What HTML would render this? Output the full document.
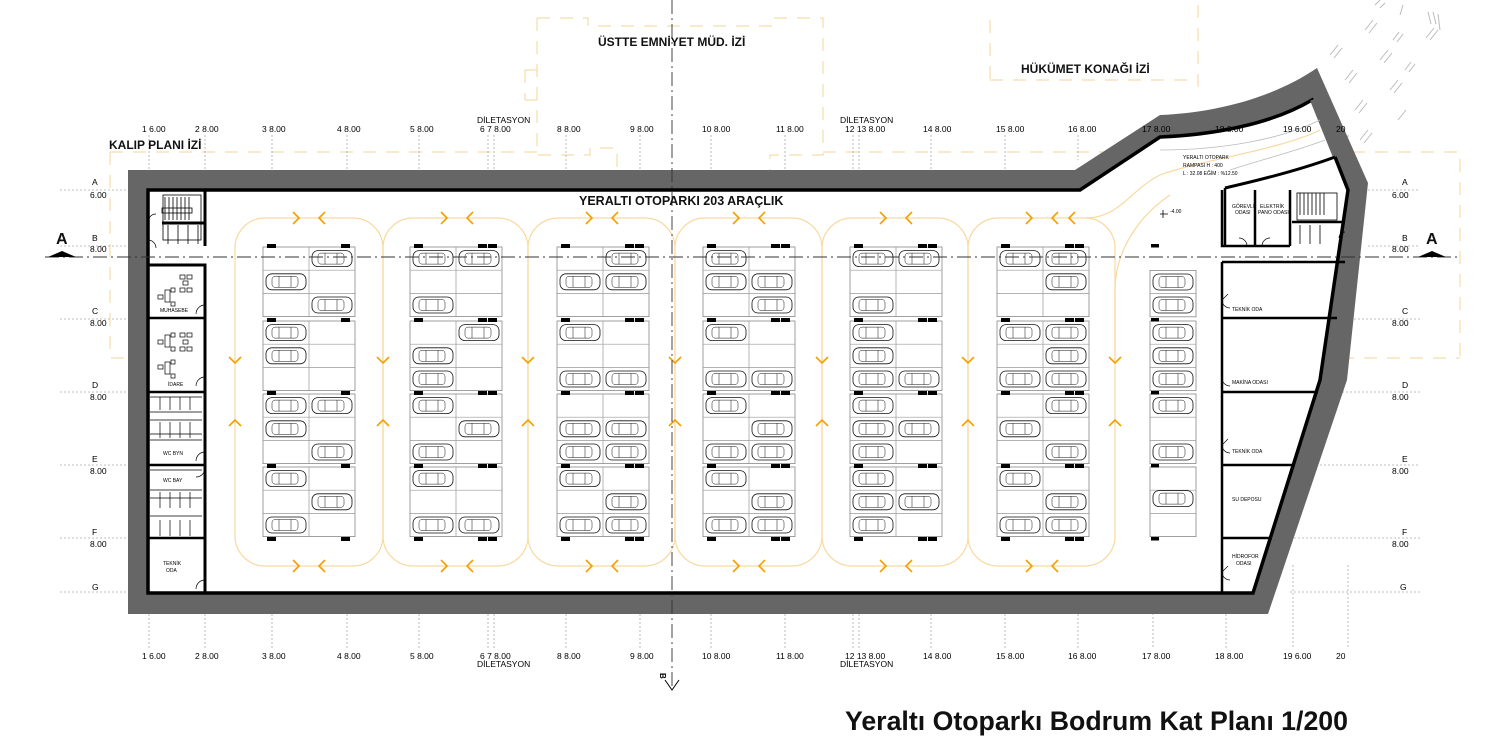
<!DOCTYPE html>
<html><head><meta charset="utf-8"><style>
html,body{margin:0;padding:0;background:#fff;}
svg{display:block;font-family:"Liberation Sans",Arial,sans-serif;}
</style></head><body>
<svg id="s" width="1500" height="747" viewBox="0 0 1500 747" xmlns="http://www.w3.org/2000/svg">
<defs>
<g id="car">
<rect x="0" y="0" width="40" height="16" rx="6" fill="#fff" stroke="#111" stroke-width="0.8"/>
<rect x="6" y="2.5" width="26" height="11" rx="3" fill="none" stroke="#111" stroke-width="0.5"/>
<line x1="13" y1="2.5" x2="13" y2="13.5" stroke="#111" stroke-width="0.5"/>
<line x1="25" y1="2.5" x2="25" y2="13.5" stroke="#111" stroke-width="0.5"/>
</g>
</defs>
<g fill="none" stroke="#f6d49a" stroke-width="1" stroke-dasharray="13 10">
<path d="M537 18 H588 V26 H772 V18 H823 V155 H770 V172 M537 18 V155 H590 V148 H617 V172"/>
<path d="M525 70 H537 M525 100 H537 M525 70 V100"/>
<path d="M110 152 H537 M823 152 H1460 V358 M110 152 V358 H148"/>
<path d="M1180 358 H1460"/>
<path d="M990 20 V80 M990 80 H1190 M1198 5 V95"/>
</g>
<g stroke="#aaa" stroke-width="0.8" stroke-dasharray="2 2" fill="none">
<path d="M149 135 V175 M205 135 V175 M272 135 V175 M347 135 V175 M419 135 V175 M488 135 V175 M494 135 V175 M566 135 V175 M640 135 V175 M711 135 V175 M785 135 V175 M853 135 V175 M859 135 V175 M931 135 V175 M1005 135 V175 M1078 135 V160 M1153 135 V210 M1226 135 V190 M1293 135 V190 M1348 135 V150"/>
<path d="M149 614 V648 M205 614 V648 M272 614 V648 M347 614 V648 M419 614 V648 M488 614 V648 M494 614 V648 M566 614 V648 M640 614 V648 M711 614 V648 M785 614 V648 M853 614 V648 M859 614 V648 M931 614 V648 M1005 614 V648 M1078 614 V648 M1153 565 V648 M1226 614 V648 M1293 565 V648 M1348 565 V648"/>
<path d="M60 190 H128 M60 246 H128 M60 319 H128 M60 392 H128 M60 465 H128 M60 538 H128 M60 592 H128"/>
<path d="M1368 190 H1420 M1368 246 H1420 M1330 319 H1420 M1318 392 H1420 M1300 465 H1420 M1290 538 H1420 M1290 592 H1420"/>
<path d="M272 196 V240 M347 196 V240 M419 196 V240 M494 196 V240 M566 196 V240 M640 196 V240 M711 196 V240 M785 196 V240 M859 196 V240 M931 196 V240 M1005 196 V240 M1078 196 V240"/>
<path d="M272 540 V590 M347 540 V590 M419 540 V590 M494 540 V590 M566 540 V590 M640 540 V590 M711 540 V590 M785 540 V590 M859 540 V590 M931 540 V590 M1005 540 V590 M1078 540 V590"/>
</g>
<g stroke="#bbb" stroke-width="1" fill="none">
<path d="M1330 55 l8 -10 M1334 58 l8 -10 M1345 80 l8 -10 M1349 83 l8 -10 M1355 110 l8 -10 M1359 113 l8 -10 M1360 140 l8 -10 M1364 143 l8 -10"/>
<path d="M1365 30 l8 -10 M1369 33 l8 -10 M1380 60 l8 -10 M1384 63 l8 -10 M1390 90 l8 -10 M1394 93 l8 -10 M1398 120 l8 -10"/>
<path d="M1375 5 l5 -5 M1380 8 l5 -5 M1393 40 l6 -8 M1397 42 l6 -8 M1405 70 l6 -8 M1409 72 l6 -8"/>
<path d="M1400 15 l3 -10 M1428 12 l3 12 M1433 12 l3 12 M1440 30 l-2 -16 M1426 38 l8 -10 M1430 40 l8 -10"/>
</g>
<path d="M128 170 H1075 L1160 115 C1210 113 1270 100 1317 68 L1368 183 L1347 380 L1268 614 H128 Z" fill="#666"/>
<path d="M148 190 H1080 L1160 137 C1210 135 1270 125 1312 100 L1335 157 L1348 190 L1320 380 L1253 593 H148 Z" fill="#fff" stroke="#000" stroke-width="3.5"/>
<path d="M1312 100 L1335 157" stroke="#666" stroke-width="4"/>
<path d="M1225 188 C1260 180 1300 170 1335 157" fill="none" stroke="#000" stroke-width="3"/>
<path d="M1225 188 V246" stroke="#000" stroke-width="2.5"/>
<g fill="none" stroke="#bbb" stroke-width="0.8">
<path d="M1160 150 C1220 150 1280 140 1320 120"/>
<path d="M1230 170 C1260 160 1300 150 1325 140"/>
</g>
<path d="M1085 218 C1120 218 1130 190 1160 175 C1200 160 1280 150 1320 130" fill="none" stroke="#f8d9a0" stroke-width="1.2"/>
<path d="M1115 360 V290 C1115 250 1140 215 1170 195" fill="none" stroke="#f8d9a0" stroke-width="1.2"/>
<g fill="none" stroke="#f8d9a0" stroke-width="1.2">
<rect x="235" y="218" width="148" height="348" rx="30"/>
<rect x="383" y="218" width="145" height="348" rx="30"/>
<rect x="528" y="218" width="147" height="348" rx="30"/>
<rect x="675" y="218" width="147" height="348" rx="30"/>
<rect x="822" y="218" width="146" height="348" rx="30"/>
<rect x="968" y="218" width="147" height="348" rx="30"/>
</g>
<g id="chev" fill="none" stroke="#f5a000" stroke-width="1.6"></g>
<g id="park"></g>
<g stroke="#000" fill="none">
<path d="M205 190 V246 M148 265 H205 V593" stroke-width="3"/>
<path d="M148 318 H205 M148 392 H205 M148 465 H205 M148 538 H205" stroke-width="2.5"/>
<rect x="163" y="195" width="38" height="45" stroke-width="0.8"/>
<path d="M165 197 V220 M169 197 V220 M173 197 V220 M177 197 V220 M181 197 V220 M185 197 V220 M189 197 V220" stroke-width="0.8"/>
<rect x="162" y="208" width="30" height="5" stroke-width="0.8"/>
<path d="M162 223 H204" stroke-width="3"/>
<path d="M168 225 V244 M178 225 V244 M188 225 V244 M198 225 V244" stroke-width="0.8"/>
<g stroke-width="0.7">
<rect x="180" y="275" width="5" height="4"/><rect x="187" y="275" width="5" height="4"/><rect x="183" y="281" width="5" height="4"/><rect x="180" y="288" width="5" height="4"/><rect x="187" y="288" width="5" height="4"/>
<rect x="165" y="290" width="5" height="12"/><rect x="158" y="295" width="5" height="4"/><rect x="171" y="288" width="4" height="4"/><rect x="171" y="302" width="4" height="4"/>
<rect x="180" y="333" width="5" height="4"/><rect x="187" y="333" width="5" height="4"/><rect x="183" y="340" width="5" height="4"/><rect x="180" y="347" width="5" height="4"/><rect x="187" y="347" width="5" height="4"/>
<rect x="165" y="335" width="5" height="12"/><rect x="158" y="340" width="5" height="4"/><rect x="171" y="333" width="4" height="4"/><rect x="171" y="347" width="4" height="4"/>
<rect x="165" y="362" width="5" height="12"/><rect x="158" y="365" width="5" height="4"/><rect x="171" y="360" width="4" height="4"/><rect x="171" y="374" width="4" height="4"/>
<path d="M150 397 H202 M150 412 H202 M150 420 H202 M150 440 H202 M150 434 H202 M150 470 H202 M150 490 H202 M150 498 H202 M150 516 H202"/>
<path d="M160 397 V410 M170 397 V410 M180 397 V410 M190 397 V410 M160 422 V438 M170 422 V438 M180 422 V438 M190 422 V438 M160 492 V508 M170 492 V508 M180 492 V508 M190 492 V508 M160 520 V536 M170 520 V536 M180 520 V536 M190 520 V536"/>
<path d="M205 305 a9 9 0 0 0 -9 9 M205 377 a9 9 0 0 0 -9 9 M205 452 a9 9 0 0 0 -9 9 M205 468 a9 9 0 0 1 -9 9 M205 580 a9 9 0 0 0 -9 9 M148 240 a8 8 0 0 1 8 8 M148 222 a8 8 0 0 1 8 -8"/>
</g>
</g>
<g stroke="#000" fill="none">
<path d="M1222 190 V246 H1290 M1255 190 V246 M1290 190 V246 M1292 222 H1345 M1222 262 V593" stroke-width="2.5"/>
<path d="M1222 262 H1345 M1222 318 H1337 M1222 392 H1318 M1222 465 H1295 M1222 538 H1272" stroke-width="2.5"/>
<rect x="1297" y="193" width="40" height="27" stroke-width="0.8"/>
<path d="M1300 193 V215 M1304 193 V215 M1308 193 V215 M1312 193 V215 M1316 193 V215 M1320 193 V215 M1324 193 V215" stroke-width="0.8"/>
<path d="M1300 225 V244 M1310 225 V244 M1320 225 V244" stroke-width="0.8"/>
<g stroke-width="0.7"><path d="M1247 246 a8 8 0 0 0 -8 -8 M1262 246 a8 8 0 0 1 8 -8 M1345 232 a6 6 0 0 0 -6 6 M1222 300 a8 8 0 0 0 8 8 M1222 300 l6 -6 M1222 378 a8 8 0 0 0 8 8 M1222 445 a8 8 0 0 0 8 8 M1222 445 l6 -6 M1222 572 a8 8 0 0 0 8 8 M1222 572 l6 -6"/></g>
</g>
<line x1="45" y1="257" x2="1460" y2="257" stroke="#333" stroke-width="0.9" stroke-dasharray="14 4 2 4"/>
<line x1="672" y1="0" x2="672" y2="690" stroke="#333" stroke-width="0.9" stroke-dasharray="14 4 2 4"/>
<path d="M48 257 L62 251 L76 257 Z M1418 257 L1432 251 L1446 257 Z" fill="#000"/>
<path d="M665 680 L672 690 L679 680" fill="none" stroke="#000"/>
<g font-size="8.5" fill="#000" text-anchor="start">
<text x="142" y="132">1  6.00</text><text x="195" y="132">2  8.00</text><text x="262" y="132">3  8.00</text><text x="337" y="132">4  8.00</text><text x="410" y="132">5  8.00</text><text x="480" y="132">6  7 8.00</text><text x="557" y="132">8  8.00</text><text x="630" y="132">9  8.00</text><text x="702" y="132">10  8.00</text><text x="776" y="132">11  8.00</text><text x="845" y="132">12 13  8.00</text><text x="923" y="132">14  8.00</text><text x="996" y="132">15  8.00</text><text x="1068" y="132">16  8.00</text><text x="1142" y="132">17  8.00</text><text x="1215" y="132">18  8.00</text><text x="1283" y="132">19  6.00</text><text x="1336" y="132">20</text>
<text x="477" y="123">DİLETASYON</text><text x="840" y="123">DİLETASYON</text>
<text x="142" y="659">1  6.00</text><text x="195" y="659">2  8.00</text><text x="262" y="659">3  8.00</text><text x="337" y="659">4  8.00</text><text x="410" y="659">5  8.00</text><text x="480" y="659">6  7 8.00</text><text x="557" y="659">8  8.00</text><text x="630" y="659">9  8.00</text><text x="702" y="659">10  8.00</text><text x="776" y="659">11  8.00</text><text x="845" y="659">12 13  8.00</text><text x="923" y="659">14  8.00</text><text x="996" y="659">15  8.00</text><text x="1068" y="659">16  8.00</text><text x="1142" y="659">17  8.00</text><text x="1215" y="659">18  8.00</text><text x="1283" y="659">19  6.00</text><text x="1336" y="659">20</text>
<text x="477" y="667">DİLETASYON</text><text x="840" y="667">DİLETASYON</text>
<text x="92" y="185">A</text><text x="90" y="198">6.00</text><text x="92" y="241">B</text><text x="90" y="252">8.00</text><text x="92" y="314">C</text><text x="90" y="326">8.00</text><text x="92" y="388">D</text><text x="90" y="400">8.00</text><text x="92" y="462">E</text><text x="90" y="474">8.00</text><text x="92" y="535">F</text><text x="90" y="547">8.00</text><text x="92" y="590">G</text>
<text x="1402" y="185">A</text><text x="1392" y="198">6.00</text><text x="1402" y="241">B</text><text x="1392" y="252">8.00</text><text x="1402" y="314">C</text><text x="1392" y="326">8.00</text><text x="1402" y="388">D</text><text x="1392" y="400">8.00</text><text x="1402" y="462">E</text><text x="1392" y="474">8.00</text><text x="1402" y="535">F</text><text x="1392" y="547">8.00</text><text x="1400" y="590">G</text>
</g>
<g font-size="5" fill="#000">
<text x="160" y="312">MUHASEBE</text><text x="168" y="386">İDARE</text><text x="163" y="455">WC BYN</text><text x="163" y="482">WC BAY</text><text x="163" y="565">TEKNİK</text><text x="166" y="572">ODA</text>
<text x="1232" y="208">GÖREVLİ</text><text x="1235" y="214">ODASI</text><text x="1260" y="208">ELEKTRİK</text><text x="1258" y="214">PANO ODASI</text>
<text x="1232" y="311">TEKNİK ODA</text><text x="1232" y="384">MAKİNA ODASI</text><text x="1232" y="453">TEKNİK ODA</text><text x="1232" y="501">SU DEPOSU</text><text x="1232" y="558">HİDROFOR</text><text x="1236" y="565">ODASI</text>
<text x="1183" y="159">YERALTI OTOPARK</text><text x="1183" y="167">RAMPASI H : 400</text><text x="1183" y="175">L : 32.08 EĞİM : %12.50</text>
<text x="1170" y="213">-4.00</text>
</g>
<path d="M1160 214 h8 M1163 210 v8" stroke="#000" stroke-width="0.8"/>
<g font-weight="bold" fill="#111">
<text x="579" y="205" font-size="12.5">YERALTI OTOPARKI  203 ARAÇLIK</text>
<text x="598" y="46" font-size="12">ÜSTTE EMNİYET MÜD. İZİ</text>
<text x="1021" y="73" font-size="12">HÜKÜMET KONAĞI İZİ</text>
<text x="109" y="149" font-size="12">KALIP PLANI İZİ</text>
<text x="56" y="244" font-size="16">A</text><text x="1426" y="244" font-size="16">A</text>
<text x="845" y="730" font-size="27" textLength="503" lengthAdjust="spacingAndGlyphs">Yeraltı Otoparkı Bodrum Kat Planı 1/200</text>
</g>
<text transform="translate(660,673) rotate(90)" font-size="8" font-weight="bold">B</text>
</svg>
<script>
(function(){
var NS="http://www.w3.org/2000/svg",park=document.getElementById('park'),ch=document.getElementById('chev');
function el(t,a,p){var e=document.createElementNS(NS,t);for(var k in a)e.setAttribute(k,a[k]);(p||park).appendChild(e);return e;}
var groups=[247,321,394,467],rh=23.2;
var blocks=[
[263,["R","L","R","L","L","","LR","L","R","L","R","L"]],
[410,["LR","","L","R","L","L","L","R","L","L","","LR"]],
[557,["R","LR","","L","","LR","","LR","LR","L","R","LR"]],
[703,["L","LR","R","L","","LR","L","R","LR","L","R","LR"]],
[850,["LR","","L","L","L","LR","L","LR","L","L","LR","L"]],
[997,["LR","R","","LR","R","LR","R","L","R","L","R","LR"]]
];
blocks.forEach(function(b){
 var x=b[0];
 groups.forEach(function(gy){
  el('rect',{x:x,y:gy,width:92,height:rh*3,fill:'#fff',stroke:'#888','stroke-width':0.8});
  el('path',{d:'M'+(x+46)+' '+gy+' V'+(gy+rh*3)+' M'+x+' '+(gy+rh)+' H'+(x+92)+' M'+x+' '+(gy+2*rh)+' H'+(x+92),stroke:'#999','stroke-width':0.7,fill:'none'});
 });
 [244,318,391,464,537].forEach(function(y){
  el('rect',{x:x+4,y:y,width:9,height:4,fill:'#000'});
  el('rect',{x:x+78,y:y,width:9,height:4,fill:'#000'});
  if(x>400){el('rect',{x:x+68,y:y,width:9,height:4,fill:'#000'});}
 });
 b[1].forEach(function(s,i){
  var gi=Math.floor(i/3),ri=i%3,y=groups[gi]+ri*rh+3.6;
  if(s.indexOf('L')>=0)el('use',{href:'#car',x:x+3,y:y});
  if(s.indexOf('R')>=0)el('use',{href:'#car',x:x+49,y:y});
 });
});
var x7=1150;
el('rect',{x:x7,y:270.4,width:46,height:rh*2,fill:'#fff',stroke:'#888','stroke-width':0.8});
el('path',{d:'M'+x7+' '+(270.4+rh)+' H'+(x7+46),stroke:'#999','stroke-width':0.7});
[321,394,467].forEach(function(gy){
 el('rect',{x:x7,y:gy,width:46,height:rh*3,fill:'#fff',stroke:'#888','stroke-width':0.8});
 el('path',{d:'M'+x7+' '+(gy+rh)+' H'+(x7+46)+' M'+x7+' '+(gy+2*rh)+' H'+(x7+46),stroke:'#999','stroke-width':0.7});
});
[244,318,391,464,537].forEach(function(y){el('rect',{x:x7+1,y:y,width:8,height:3.5,fill:'#000'});});
[274,297,324.6,347.8,371,397.6,444,490.6].forEach(function(y){el('use',{href:'#car',x:x7+3,y:y});});
var bays=[235,383,528,675,822,968];
bays.forEach(function(bx){
 [218,566].forEach(function(y){
  var a=bx+61,b=bx+87;
  el('path',{d:'M'+(a-3)+' '+(y-6)+' L'+(a+3)+' '+y+' L'+(a-3)+' '+(y+6)},ch);
  el('path',{d:'M'+(b+3)+' '+(y-6)+' L'+(b-3)+' '+y+' L'+(b+3)+' '+(y+6)},ch);
 });
});
[235,383,528,675,822,968,1115].forEach(function(vx){
 el('path',{d:'M'+(vx-6)+' 357 L'+vx+' 363 L'+(vx+6)+' 357'},ch);
 el('path',{d:'M'+(vx-6)+' 426 L'+vx+' 420 L'+(vx+6)+' 426'},ch);
});
el('path',{d:'M1075 212 L1069 218 L1075 224'},ch);
})();
</script>
</body></html>
